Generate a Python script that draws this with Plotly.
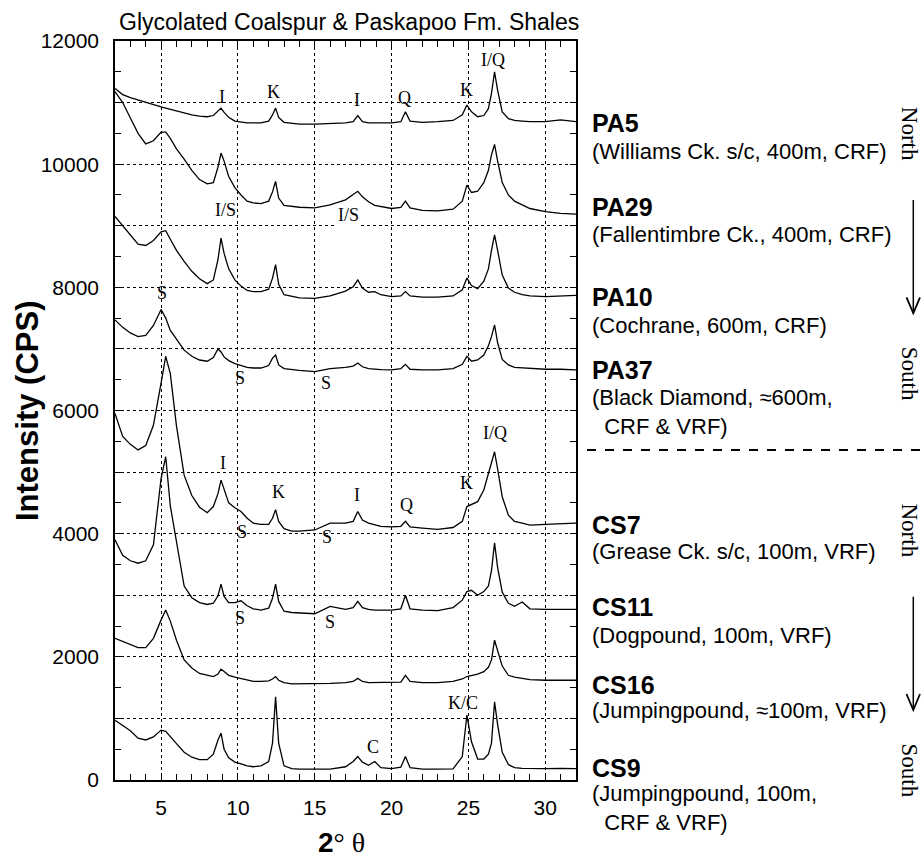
import plotly.graph_objects as go

# ---------------- data ----------------
two_theta = [2, 2.5, 3, 3.5, 4, 4.5, 5, 5.3, 5.6, 6, 6.5, 7, 7.5, 8, 8.4, 8.7, 8.9, 9.1, 9.4, 9.8,
             10.2, 10.6, 11, 11.5, 12, 12.25, 12.45, 12.65, 13, 13.5, 14, 15, 16, 17, 17.5, 17.8,
             18.1, 18.5, 18.9, 19.3, 20, 20.6, 20.9, 21.2, 22, 23, 24, 24.6, 24.9, 25.2, 25.6,
             26, 26.3, 26.5, 26.7, 26.9, 27.2, 27.6, 28, 28.5, 29, 30, 31, 32]

PA5 = [11230, 11130, 11080, 11040, 11000, 10960, 10930, 10910, 10890, 10860, 10830, 10800, 10780,
       10770, 10790, 10870, 10910, 10840, 10760, 10700, 10680, 10670, 10670, 10670, 10700, 10800,
       10910, 10760, 10680, 10660, 10650, 10650, 10660, 10670, 10690, 10790, 10690, 10670, 10670,
       10670, 10670, 10690, 10850, 10700, 10680, 10690, 10710, 10800, 10960, 10850, 10770, 10790,
       10900, 11150, 11500, 11200, 10850, 10740, 10710, 10700, 10690, 10690, 10720, 10690]

PA29 = [11180, 11000, 10750, 10500, 10330, 10380, 10520, 10520, 10420, 10250, 10080, 9900, 9750,
        9680, 9700, 9950, 10180, 10050, 9800, 9620, 9500, 9400, 9370, 9360, 9400, 9550, 9720, 9450,
        9330, 9310, 9300, 9290, 9340, 9420, 9500, 9560, 9470, 9390, 9330, 9310, 9280, 9300, 9400,
        9290, 9250, 9240, 9270, 9400, 9660, 9540, 9560, 9700, 9900, 10150, 10320, 10050, 9700, 9500,
        9400, 9340, 9280, 9230, 9200, 9190]

PA10 = [9150, 9000, 8850, 8700, 8680, 8760, 8900, 8920, 8780, 8600, 8420, 8260, 8140, 8060, 8120,
        8450, 8800, 8550, 8300, 8120, 8020, 7950, 7930, 7930, 7970, 8150, 8370, 8050, 7880, 7850,
        7830, 7820, 7860, 7940, 8010, 8120, 7990, 7920, 7930, 7880, 7850, 7860, 7930, 7860, 7840,
        7840, 7860, 7960, 8150, 8030, 7980, 8100, 8300, 8600, 8850, 8600, 8200, 7990, 7920, 7880,
        7860, 7850, 7860, 7870]

PA37 = [7470, 7350, 7260, 7200, 7220, 7380, 7640, 7500, 7300, 7150, 6980, 6880, 6820, 6800, 6860,
        7000, 6950, 6870, 6810, 6760, 6730, 6700, 6690, 6690, 6730, 6850, 6900, 6740, 6680, 6660,
        6650, 6630, 6680, 6700, 6720, 6770, 6710, 6680, 6670, 6665, 6660, 6680, 6750, 6670, 6660,
        6660, 6680, 6750, 6880, 6800, 6820, 6900, 7050, 7200, 7390, 7100, 6830, 6740, 6700, 6690,
        6680, 6670, 6670, 6660]

CS7 = [5950, 5580, 5450, 5360, 5430, 5760, 6450, 6880, 6600, 5750, 4950, 4620, 4430, 4340, 4440,
       4650, 4870, 4720, 4500, 4420, 4360, 4250, 4170, 4150, 4150, 4250, 4390, 4200, 4080, 4040,
       4040, 4060, 4170, 4170, 4200, 4360, 4220, 4170, 4140, 4120, 4110, 4120, 4200, 4110, 4090,
       4070, 4100, 4200, 4440, 4470, 4520, 4710, 4980, 5150, 5330, 5050, 4600, 4300, 4200, 4170,
       4140, 4150, 4160, 4170]

CS11 = [3900, 3650, 3560, 3520, 3560, 3820, 4900, 5250, 4450, 3850, 3150, 2960, 2880, 2850, 2870,
        2990, 3180, 2980, 2880, 2880, 2910, 2830, 2780, 2760, 2790, 2950, 3180, 2900, 2740, 2720,
        2710, 2700, 2820, 2770, 2800, 2900, 2800, 2770, 2760, 2760, 2760, 2780, 3000, 2780, 2760,
        2750, 2800, 2920, 3060, 3080, 3000, 3060, 3150, 3400, 3850, 3450, 3050, 2870, 2820, 2890,
        2780, 2770, 2770, 2770]

CS16 = [2300, 2250, 2200, 2150, 2150, 2300, 2600, 2760, 2580, 2270, 1950, 1820, 1730, 1700, 1680,
        1720, 1800, 1760, 1700, 1670, 1650, 1620, 1600, 1600, 1610, 1640, 1680, 1620, 1580, 1560,
        1560, 1560, 1570, 1580, 1600, 1650, 1600, 1580, 1580, 1580, 1580, 1590, 1700, 1600, 1580,
        1580, 1600, 1640, 1680, 1700, 1720, 1760, 1830, 1950, 2270, 2100, 1850, 1700, 1670, 1650,
        1630, 1620, 1625, 1620]

CS9 = [970, 880, 800, 680, 650, 700, 810, 790, 700, 590, 450, 370, 330, 330, 420, 650, 760, 500,
       360, 290, 260, 230, 215, 230, 300, 600, 1350, 600, 230, 185, 175, 170, 175, 215, 300, 380,
       290, 240, 300, 200, 185, 210, 380, 200, 175, 175, 180, 380, 1055, 620, 340, 340, 420, 600,
       1270, 900, 450, 250, 200, 190, 185, 185, 190, 185]

series = [PA5, PA29, PA10, PA37, CS7, CS11, CS16, CS9]

sample_names = ["PA5", "PA29", "PA10", "PA37", "CS7", "CS11", "CS16", "CS9"]
sample_desc = ["(Williams Ck. s/c, 400m, CRF)", "(Fallentimbre Ck., 400m, CRF)",
               "(Cochrane, 600m, CRF)", "(Black Diamond, ≈600m,<br>  CRF &amp; VRF)",
               "(Grease Ck. s/c, 100m, VRF)", "(Dogpound, 100m, VRF)",
               "(Jumpingpound, ≈100m, VRF)", "(Jumpingpound, 100m,<br>  CRF &amp; VRF)"]

peak_text = ["I", "K", "I", "Q", "K", "I/Q", "I/S", "I/S", "S", "S", "S",
             "I", "K", "I", "Q", "K", "I/Q", "S", "S", "S", "S", "C", "K/C"]
peak_x = [8.97, 12.32, 17.74, 20.81, 24.88, 26.61, 9.19, 17.2, 5.08, 10.16, 15.75,
          9.04, 12.61, 17.78, 20.99, 24.88, 26.72, 10.27, 15.79, 10.16, 16.0, 18.82, 24.66]
peak_y = [11095, 11177, 11042, 11070, 11206, 11692, 9256, 9175, 7913, 6523, 6441,
          5152, 4681, 4628, 4465, 4818, 5630, 4032, 3951, 2626, 2570, 541, 1245]

y_ticks = list(range(0, 12001, 1000))
y_ticktext = [str(v) if v % 2000 == 0 else "" for v in y_ticks]
x_ticks = [5, 10, 15, 20, 25, 30]

# ---------------- layout geometry (pixels) ----------------
W, H = 922, 860
L, R, T, B = 115, 576, 41, 780
SANS = "Liberation Sans, Arial, sans-serif"
SERIF = "Liberation Serif, Times New Roman, serif"


def px(xp):
    return (xp - L) / (R - L)


def py(yp):
    return (B - yp) / (B - T)


fig = go.Figure()
for name, vals in zip(sample_names, series):
    fig.add_trace(go.Scatter(x=two_theta, y=vals, mode="lines", name=name,
                             line=dict(color="black", width=1.3), showlegend=False))

ann = []
for t, xv, yv in zip(peak_text, peak_x, peak_y):
    a = dict(x=xv, y=yv, xref="x", yref="y", text=t, showarrow=False,
             font=dict(family=SERIF, size=18, color="black"))
    if t == "I/S" and xv > 15:
        a.update(bgcolor="white")
    ann.append(a)

name_py = [123.3, 206.7, 296.7, 370, 525, 606.7, 685, 768.3]
desc_py = [151.7, 235, 325, 411.5, 551.7, 635, 710, 808]
for n, d, ny, dy in zip(sample_names, sample_desc, name_py, desc_py):
    ann.append(dict(x=px(590), y=py(ny), xref="paper", yref="paper", text="<b>" + n + "</b>",
                    showarrow=False, xanchor="left", yanchor="middle",
                    font=dict(family=SANS, size=25, color="black")))
    ann.append(dict(x=px(590), y=py(dy), xref="paper", yref="paper", text=d,
                    showarrow=False, xanchor="left", yanchor="middle", align="left",
                    font=dict(family=SANS, size=22, color="black")))

for word, cy in [("North", 133.3), ("South", 373.3), ("North", 530), ("South", 770)]:
    ann.append(dict(x=px(909.5), y=py(cy), xref="paper", yref="paper", text=word,
                    textangle=90, showarrow=False, xanchor="center", yanchor="middle",
                    font=dict(family=SERIF, size=23, color="black")))

ann.append(dict(x=px(117), y=py(22), xref="paper", yref="paper",
                text="Glycolated Coalspur &amp; Paskapoo Fm. Shales", showarrow=False,
                xanchor="left", yanchor="middle", font=dict(family=SANS, size=23, color="black")))
ann.append(dict(x=px(27), y=py(411), xref="paper", yref="paper", text="<b>Intensity (CPS)</b>",
                textangle=-90, showarrow=False, xanchor="center", yanchor="middle",
                font=dict(family=SANS, size=31, color="black")))
ann.append(dict(x=px(341), y=py(842), xref="paper", yref="paper",
                text="<b>2</b><span style=\"font-family:Liberation Serif\">° θ</span>",
                showarrow=False, xanchor="center", yanchor="middle",
                font=dict(family=SANS, size=28, color="black")))

shapes = [dict(type="line", xref="paper", yref="paper", x0=px(587), x1=px(922), y0=py(450), y1=py(450),
               line=dict(color="black", width=2, dash="dash"))]
for y0, y1 in [(200, 313.3), (596.7, 710)]:
    shapes.append(dict(type="line", xref="paper", yref="paper", x0=px(913.3), x1=px(913.3),
                       y0=py(y0), y1=py(y1), line=dict(color="black", width=1.5)))
    shapes.append(dict(type="path", xref="paper", yref="paper",
                       path="M {} {} L {} {} L {} {}".format(px(906.5), py(y1 - 16), px(913.3), py(y1),
                                                            px(920), py(y1 - 16)),
                       line=dict(color="black", width=1.8)))

axis_common = dict(showline=True, linecolor="black", linewidth=1.5, mirror="ticks",
                   ticks="inside", tickcolor="black", ticklen=6, tickwidth=1,
                   showgrid=True, gridcolor="black", griddash="dot", gridwidth=1,
                   zeroline=False, tickfont=dict(family=SANS, size=21, color="black"))

fig.update_layout(
    width=W, height=H, paper_bgcolor="white", plot_bgcolor="white",
    margin=dict(l=L, r=W - R, t=T, b=H - B),
    xaxis=dict(range=[2, 32], tickvals=x_ticks, ticktext=[str(v) for v in x_ticks],
               ticklabelstandoff=8,
               minor=dict(dtick=1, tick0=0, ticks="inside", ticklen=6, tickcolor="black", showgrid=False),
               **axis_common),
    yaxis=dict(range=[0, 12000], tickvals=y_ticks, ticktext=y_ticktext, ticklabelstandoff=10,
               minor=dict(dtick=500, tick0=0, ticks="inside", ticklen=6, tickcolor="black", showgrid=False),
               **axis_common),
    annotations=ann, shapes=shapes,
)

fig.write_html("out.html", config={"displayModeBar": False},
               post_script="document.body.style.margin='0';document.body.style.overflow='hidden';")
